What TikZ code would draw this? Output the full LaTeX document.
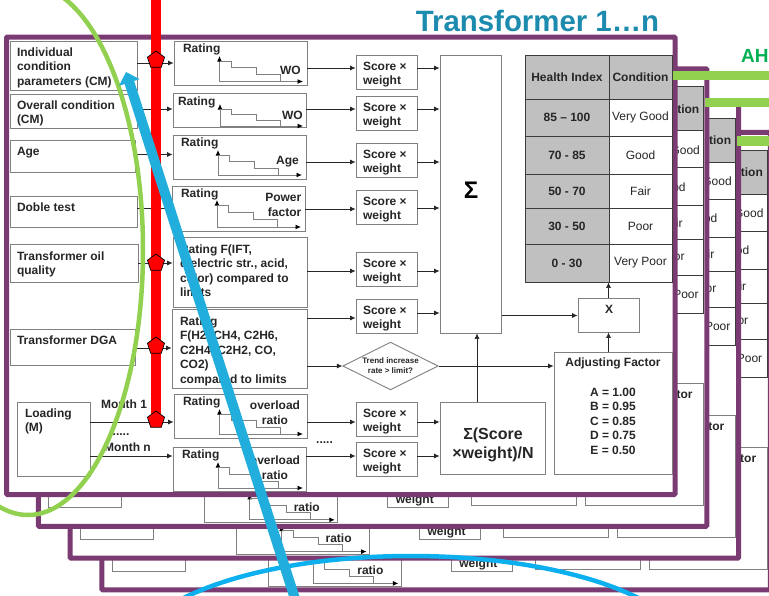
\documentclass[tikz,border=0pt]{standalone}
\usepackage{fontspec}
\setmainfont{Liberation Sans}
\usetikzlibrary{arrows.meta,shapes.geometric}
\definecolor{frameC}{HTML}{7A3A72}
\definecolor{lineC}{HTML}{808080}
\definecolor{txtC}{HTML}{262626}
\definecolor{cellC}{HTML}{C0C0C0}
\definecolor{barC}{HTML}{92D050}
\definecolor{arrowBlue}{HTML}{22AEDC}
\definecolor{arcBlue}{HTML}{0CB0EE}
\definecolor{titleC}{HTML}{1C8BAE}
\definecolor{ahC}{HTML}{00B050}
\newcommand\bfs{\bfseries\fontsize{12}{14.6}\selectfont}
\newcommand\rms{\fontsize{12}{14.6}\selectfont}
\tikzset{
  boxed/.style={draw=lineC,line width=0.9pt,fill=white,inner sep=0pt,text=txtC,font=\bfs},
  conn/.style={draw=txtC,line width=0.7pt,-{Latex[length=5.5pt,width=5pt]}},
  axisline/.style={draw=lineC,line width=0.9pt,{Latex[length=5.5pt,width=5pt,black]}-{Latex[length=5.5pt,width=5pt,black]}},
  stair/.style={draw=lineC,line width=0.9pt},
  lab/.style={inner sep=0pt,text=txtC,font=\bfs,align=center},
  labr/.style={inner sep=0pt,text=txtC,font=\bfs,align=right},
  cellbox/.style={draw=txtC!90,line width=0.9pt,inner sep=0pt,text=txtC},
  framebox/.style={draw=frameC,line width=5pt,fill=white,rounded corners=1pt},
  bar/.style={fill=barC,draw=none},
  penta/.style={regular polygon,regular polygon sides=5,fill=red,draw=black,line width=0.7pt,minimum size=18pt,inner sep=0pt}
}
% optional style, name, x1,y1,x2,y2, padx, pady, text
\newcommand\bx[8][]{%
  \pgfmathsetlengthmacro\bw{(#5-#3)*1pt}%
  \pgfmathsetlengthmacro\bh{(#6-#4)*1pt}%
  \node[boxed,#1] (#2) at ({(#3+#5)/2},{(#4+#6)/2})
    {\parbox[c][\bh][t]{\bw}{\vspace*{#8pt}\raggedright\leftskip=#7pt\relax\rule{0pt}{10pt}\ignorespaces\boxtext}};}
\newcommand\boxtext{}
\newcommand\tbx[9][]{\renewcommand\boxtext{#9}\bx[#1]{#2}{#3}{#4}{#5}{#6}{#7}{#8}}
% name, x1,y1,x2,y2, fill, text
\newcommand\cell[7]{%
  \pgfmathsetlengthmacro\bw{(#4-#2)*1pt}%
  \pgfmathsetlengthmacro\bh{(#5-#3)*1pt}%
  \node[cellbox,fill=#6,minimum width=\bw,minimum height=\bh] (#1) at ({(#2+#4)/2},{(#3+#5)/2}) {#7};}
% name, axis x, top, base, xend
\newcommand\chart[5]{%
  \coordinate (#1t) at (#2,#3);
  \coordinate (#1o) at (#2,#4);
  \coordinate (#1e) at (#5,#4);
  \draw[axisline] (#1t) -- (#1o) -- (#1e);
  \pgfmathsetmacro\sa{#3+5}\pgfmathsetmacro\sd{(#4-#3-5)/3}%
  \pgfmathsetmacro\sb{\sa+\sd}\pgfmathsetmacro\sc{\sa+2*\sd}%
  \draw[stair] (#2,\sa) -- ({#2+11.5},\sa) -- ({#2+11.5},\sb) -- ({#2+36.5},\sb) -- ({#2+36.5},\sc) -- ({#2+60.5},\sc) -- ({#2+60.5},#4);}
\newcommand\ha[3]{\draw[conn] (#1.east |- 0,#3) -- (#2.west |- 0,#3);}
% prefix, offset
\newcommand\backlayer[2]{%
\begin{scope}[shift={(#2,#2)}]
  \node[framebox,minimum width=668.5pt,minimum height=457.5pt,inner sep=0pt] (#1frame) at (340.75,265.75) {};
  \cell{#1c0}{630}{55}{672}{99}{cellC}{}
  \cell{#1c1}{630}{99}{672}{136}{white}{}
  \cell{#1c2}{630}{136}{672}{174}{white}{}
  \cell{#1c3}{630}{174}{672}{208}{white}{}
  \cell{#1c4}{630}{208}{672}{244}{white}{}
  \cell{#1c5}{630}{244}{672}{282}{white}{}
  \node[labr,anchor=east] (#1t0) at (667.7,77) {tion};
  \node[labr,anchor=east,font=\rms] (#1t1) at (668.3,118) {Good};
  \node[labr,anchor=east,font=\rms] (#1t2) at (654,155) {od};
  \node[labr,anchor=east,font=\rms] (#1t3) at (651,191) {ir};
  \node[labr,anchor=east,font=\rms] (#1t4) at (653,226) {or};
  \node[labr,anchor=east,font=\rms] (#1t5) at (667,263) {Poor};
  \renewcommand\boxtext{}\bx{#1af}{554}{352}{672}{474}{0}{0}
  \node[labr,anchor=east] (#1aft) at (661,363) {tor};
  \bx{#1sum}{440}{402}{545}{474}{0}{0}
  \bx{#1s}{356}{442}{417}{476}{0}{0}
  \node[lab] (#1st) at (383,469) {weight};
  \bx{#1r}{173}{447}{306}{491}{0}{0}
  \chart{#1ch}{218}{462}{488}{303}
  \node[lab] (#1rt) at (275,475) {ratio};
  \bx{#1load}{17}{402}{90}{476}{0}{0}
\end{scope}}
\begin{document}
\begin{tikzpicture}[x=1pt,y=-1pt]
\useasboundingbox (0,0) rectangle (769,595);
\clip (0,0) rectangle (769,595);
\fill[white] (0,0) rectangle (769,595);
% stacked sheets behind
\backlayer{d}{95.4}
\backlayer{c}{63.6}
\backlayer{b}{31.8}
% front sheet
\node[framebox,minimum width=668.5pt,minimum height=457.5pt,inner sep=0pt] (frame) at (340.75,265.75) {};
\node[inner sep=0pt,text=titleC,font=\bfseries\fontsize{29.4}{32}\selectfont] (title) at (537.5,21) {Transformer 1…n};
\node[inner sep=0pt,anchor=west,text=ahC,font=\bfseries\fontsize{19}{22}\selectfont] (ah) at (741,56) {AH};
% left column
\tbx{i1}{10}{41}{137}{90}{7}{5}{Individual\\condition\\parameters (CM)}
\tbx{i2}{10}{94}{137}{128.5}{7}{5}{Overall condition\\(CM)}
\tbx{i3}{10}{140}{135}{172}{7}{5}{Age}
\tbx{i4}{10}{196}{137}{227}{7}{5}{Doble test}
\tbx{i5}{10}{244}{138}{282}{7}{6}{Transformer oil\\quality}
\tbx{i6}{10}{329}{135}{365}{7}{5}{Transformer DGA}
\tbx{i7}{17}{402}{90}{476}{8}{5}{Loading\\(M)}
% ratings
\tbx{r1}{174}{41}{307}{85}{9}{1}{Rating}
\tbx{r2}{173}{93}{306}{127}{5}{2}{Rating}
\tbx{r3}{173}{135}{306}{179}{8}{1}{Rating}
\tbx{r4}{172}{186}{305}{231}{9}{1}{Rating}
\tbx{r5}{173}{237}{307}{307}{7}{6}{Rating F(IFT,\\dielectric str., acid,\\color) compared to\\limits}
\tbx{r6}{172}{309}{307}{388}{8}{6}{Rating\\F(H2, CH4, C2H6,\\C2H4, C2H2, CO,\\CO2)\\compared to limits}
\tbx{r7}{174}{394}{307}{438}{9}{1}{Rating}
\tbx{r8}{173}{447}{306}{491}{9}{1}{Rating}
\chart{c1}{219.5}{56}{81.5}{303}
\chart{c2}{220}{104}{126}{303}
\chart{c3}{218}{150}{175}{302}
\chart{c4}{217}{200}{227}{301}
\chart{c7}{219.5}{409}{434}{303}
\chart{c8}{218}{462}{488}{303}
\node[labr,anchor=east] (l1) at (301,70) {WO};
\node[labr,anchor=east] (l2) at (303,115) {WO};
\node[labr,anchor=east] (l3) at (299,162) {Age};
\node[labr,anchor=east] (l4) at (301.5,205) {Power\\factor};
\node[lab] (l7) at (275,413) {overload\\ratio};
\node[lab] (l8) at (275,468) {overload\\ratio};
% scores
\tbx{s1}{356}{55}{417}{89}{7}{5}{Score ×\\weight}
\tbx{s2}{356}{96}{417}{130}{7}{5}{Score ×\\weight}
\tbx{s3}{356}{143}{417}{177}{7}{5}{Score ×\\weight}
\tbx{s4}{356}{190}{417}{224}{7}{5}{Score ×\\weight}
\tbx{s5}{356}{252}{417}{286}{7}{5}{Score ×\\weight}
\tbx{s6}{356}{299}{417}{333}{7}{5}{Score ×\\weight}
\tbx{s7}{356}{402}{417}{436}{7}{5}{Score ×\\weight}
\tbx{s8}{356}{442}{417}{476}{7}{5}{Score ×\\weight}
% sums
\renewcommand\boxtext{}\bx{sig}{440}{55}{501.5}{333}{0}{0}
\node[inner sep=0pt,text=black,font=\bfseries\fontsize{24}{26}\selectfont] (sigt) at (471,190) {Σ};
\node[draw=lineC,line width=0.9pt,fill=white,inner sep=0pt,minimum width=105pt,minimum height=72pt] (sum) at (492.5,438) {};
\node[inner sep=0pt,align=center,text=txtC,font=\bfseries\fontsize{16}{19}\selectfont] (sumt) at (493,445) {Σ(Score\\×weight)/N};
% table
\cell{h1}{525}{55}{609}{99}{cellC}{\bfs Health Index}
\cell{h2}{609}{55}{672}{99}{cellC}{\bfs Condition}
\cell{a1}{525}{99}{609}{136}{cellC}{\bfs 85 – 100}
\cell{b1}{609}{99}{672}{136}{white}{\rms Very Good}
\cell{a2}{525}{136}{609}{174}{cellC}{\bfs 70 - 85}
\cell{b2}{609}{136}{672}{174}{white}{\rms Good}
\cell{a3}{525}{174}{609}{208}{cellC}{\bfs 50 - 70}
\cell{b3}{609}{174}{672}{208}{white}{\rms Fair}
\cell{a4}{525}{208}{609}{244}{cellC}{\bfs 30 - 50}
\cell{b4}{609}{208}{672}{244}{white}{\rms Poor}
\cell{a5}{525}{244}{609}{282}{cellC}{\bfs 0 - 30}
\cell{b5}{609}{244}{672}{282}{white}{\rms Very Poor}
% X box, adjusting factor
\tbx{xb}{578}{298}{639}{332}{27}{5}{X}
\node[boxed,minimum width=118pt,minimum height=122pt] (af) at (613,413) {};
\node[lab] (aft) at (613,406.5) {Adjusting Factor\\[14.6pt]A = 1.00\\B = 0.95\\C = 0.85\\D = 0.75\\E = 0.50};
% diamond
\node[diamond,draw=lineC,line width=0.9pt,fill=white,aspect=2,inner sep=1.2pt,align=center,text=txtC,font=\bfseries\fontsize{8}{10}\selectfont] (tr) at (390.5,366) {Trend increase\\rate > limit?};
% month labels
\node[lab] (m1) at (124,404) {Month 1};
\node[lab] (mn) at (127.5,447) {Month n};
\node[lab] (dots1) at (121,435) {.....};
\node[lab] (dots2) at (324.5,443) {.....};
% connectors
\ha{i1}{r1}{63}
\ha{i2}{r2}{109}
\ha{i3}{r3}{154.5}
\ha{i4}{r4}{208}
\ha{i5}{r5}{263}
\ha{i6}{r6}{348}
\ha{i7}{r7}{422}
\ha{i7}{r8}{456}
\ha{r1}{s1}{68}
\ha{r2}{s2}{109}
\ha{r3}{s3}{162}
\ha{r4}{s4}{209}
\ha{r5}{s5}{271}
\ha{r6}{s6}{318}
\ha{r6}{tr}{366}
\ha{r7}{s7}{422}
\ha{r8}{s8}{456}
\ha{s1}{sig}{68}
\ha{s2}{sig}{109}
\ha{s3}{sig}{162}
\ha{s4}{sig}{208}
\ha{s5}{sig}{271}
\ha{s6}{sig}{313}
\ha{s7}{sum}{422}
\ha{s8}{sum}{456}
\ha{sig}{xb}{315.5}
\ha{tr}{af}{366}
\draw[conn] (xb.north) -- (a5.south -| xb.north);
\draw[conn] (af.north -| xb.south) -- (xb.south);
\draw[conn] (sum.north -| 477,0) -- (sig.south -| 477,0);
% red line with pentagons
\coordinate (redtop) at (156,-5);
\coordinate (redend) at (156,420);
\draw[red,line width=10pt] (redtop) -- (redend);
\node[penta] (p1) at (156,60) {};
\node[penta] (p2) at (156,263) {};
\node[penta] (p3) at (156,346) {};
\node[penta] (p4) at (redend) {};
% green bars
\fill[bar] (673,70.5) rectangle (769,80.3);
\fill[bar] (705,97.7) rectangle (769,107.3);
\fill[bar] (737,136) rectangle (769,145.7);
% ellipse and arc
\draw[barC,line width=4.5pt] (28,250) ellipse [x radius=115,y radius=265];
\draw[arcBlue,line width=4.5pt] (411,656) ellipse [x radius=279,y radius=100];
% big arrow
\coordinate (bluefrom) at (297,605);
\coordinate (blueto) at (126,72);
\draw[arrowBlue,line width=10pt,-{Triangle[length=11pt,width=21pt]}] (bluefrom) -- (blueto);
\end{tikzpicture}
\end{document}
